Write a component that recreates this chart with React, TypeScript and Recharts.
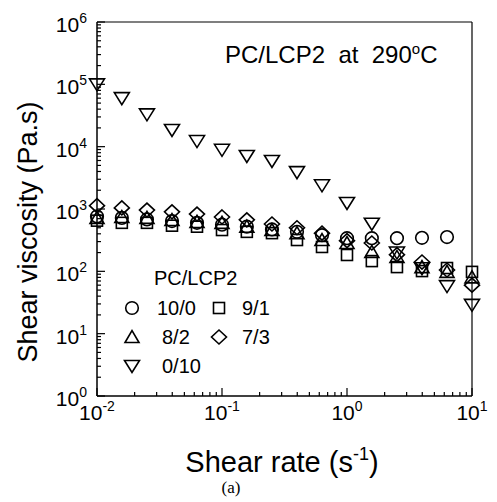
import React from 'react';
import { ScatterChart, Scatter, XAxis, YAxis, Customized } from 'recharts';

// ---------- data ----------
const shearRate = [0.01, 0.0158, 0.0251, 0.0398, 0.0631, 0.1, 0.158, 0.251, 0.398, 0.631, 1, 1.58, 2.51, 3.98, 6.31, 10];

const visc_10_0 = [760, 720, 680, 640, 600, 560, 520, 470, 430, 380, 340, 340, 340, 345, 355];
const visc_9_1 = [650, 600, 600, 540, 520, 460, 430, 410, 318, 246, 183, 146, 117, 101, 113, 98];
const visc_8_2 = [720, 745, 720, 666, 620, 600, 520, 460, 410, 318, 285, 205, 170, 117, 98, 80];
const visc_7_3 = [1130, 1040, 960, 900, 830, 745, 670, 575, 500, 410, 310, 285, 185, 141, 105, 60];
const visc_0_10 = [100000, 60000, 33000, 18500, 12300, 8900, 7100, 5900, 3900, 2400, 1250, 580, 200, 112, 58, 29];

const xMajorTicks = [0.01, 0.1, 1, 10];
const xMajorExp = ['-2', '-1', '0', '1'];
const yMajorTicks = [1, 10, 100, 1000, 10000, 100000, 1000000];
const yMajorExp = ['0', '1', '2', '3', '4', '5', '6'];

const seriesNames = ['10/0', '9/1', '8/2', '7/3', '0/10'];

// ---------- helpers ----------
const minorsFor = (majors: number[]) => {
  const out: number[] = [];
  for (let i = 0; i < majors.length - 1; i++) {
    for (let k = 2; k <= 9; k++) out.push(majors[i] * k);
  }
  return out;
};
const xTicks = [...xMajorTicks, ...minorsFor(xMajorTicks)];
const yTicks = [...yMajorTicks, ...minorsFor(yMajorTicks)];

const toPoints = (vals: number[]) => vals.map((v, i) => ({ x: shearRate[i], y: v }));

const SANS = '"Liberation Sans", Arial, sans-serif';
const SERIF = '"Liberation Serif", "Times New Roman", serif';
const SW = 1.6;

type Kind = 'circle' | 'square' | 'triUp' | 'triDown' | 'diamond';

const Marker = ({ kind, cx, cy }: { kind: Kind; cx: number; cy: number }) => {
  if (cx == null || cy == null || isNaN(cx) || isNaN(cy)) return null;
  const common = { fill: 'none', stroke: '#000', strokeWidth: SW };
  switch (kind) {
    case 'circle':
      return <circle cx={cx} cy={cy} r={6.3} {...common} />;
    case 'square':
      return <rect x={cx - 5.5} y={cy - 5.5} width={11} height={11} {...common} />;
    case 'triUp':
      return <polygon points={`${cx - 7},${cy + 5.5} ${cx + 7},${cy + 5.5} ${cx},${cy - 6.5}`} {...common} />;
    case 'triDown':
      return <polygon points={`${cx - 7.5},${cy - 5.5} ${cx + 7.5},${cy - 5.5} ${cx},${cy + 6.5}`} {...common} />;
    case 'diamond':
      return <polygon points={`${cx},${cy - 7} ${cx + 7.5},${cy} ${cx},${cy + 7} ${cx - 7.5},${cy}`} {...common} />;
  }
  return null;
};

const XTick = (props: any) => {
  const { x, y, payload } = props;
  const idx = xMajorTicks.indexOf(payload.value);
  const major = idx >= 0;
  return (
    <g>
      <line x1={x} x2={x} y1={y} y2={y - (major ? 8 : 4)} stroke="#000" strokeWidth={1.2} />
      {major && (
        <text x={x} y={y + 24} textAnchor="middle" fontFamily={SANS} fontSize={21} fill="#000">
          10<tspan dy={-9} fontSize={14}>{xMajorExp[idx]}</tspan>
        </text>
      )}
    </g>
  );
};

const YTick = (props: any) => {
  const { x, y, payload } = props;
  const idx = yMajorTicks.indexOf(payload.value);
  const major = idx >= 0;
  return (
    <g>
      <line x1={x} x2={x + (major ? 8 : 4)} y1={y} y2={y} stroke="#000" strokeWidth={1.2} />
      {major && (
        <text x={x - 10} y={y + 10} textAnchor="end" fontFamily={SANS} fontSize={21} fill="#000">
          10<tspan dy={-9} fontSize={14}>{yMajorExp[idx]}</tspan>
        </text>
      )}
    </g>
  );
};

const Annotations = () => (
  <g>
    {/* title inside plot */}
    <text x={225} y={63} fontFamily={SANS} fontSize={24} fill="#000" style={{ whiteSpace: 'pre' }}>
      {'PC/LCP2  at  290'}
      <tspan dy={-9} fontSize={15}>o</tspan>
      <tspan dy={9}>C</tspan>
    </text>
    {/* legend */}
    <text x={154} y={285} fontFamily={SANS} fontSize={20} fill="#000">PC/LCP2</text>
    <Marker kind="circle" cx={132} cy={308} />
    <text x={157} y={315} fontFamily={SANS} fontSize={20} fill="#000">{seriesNames[0]}</text>
    <Marker kind="square" cx={219} cy={308} />
    <text x={242} y={315} fontFamily={SANS} fontSize={20} fill="#000">{seriesNames[1]}</text>
    <Marker kind="triUp" cx={132} cy={337} />
    <text x={162} y={344} fontFamily={SANS} fontSize={20} fill="#000">{seriesNames[2]}</text>
    <Marker kind="diamond" cx={219} cy={337} />
    <text x={242} y={344} fontFamily={SANS} fontSize={20} fill="#000">{seriesNames[3]}</text>
    <Marker kind="triDown" cx={132} cy={366} />
    <text x={162} y={373} fontFamily={SANS} fontSize={20} fill="#000">{seriesNames[4]}</text>
    {/* axis titles */}
    <text
      x={28}
      y={232}
      transform="rotate(-90 28 232)"
      textAnchor="middle"
      dominantBaseline="central"
      fontFamily={SANS}
      fontSize={27}
      fill="#000"
    >
      Shear viscosity (Pa.s)
    </text>
    <text x={282} y={472} textAnchor="middle" fontFamily={SANS} fontSize={29} fill="#000">
      Shear rate (s<tspan dy={-12} fontSize={18}>-1</tspan>
      <tspan dy={12}>)</tspan>
    </text>
    <text x={231} y={493} textAnchor="middle" fontFamily={SERIF} fontSize={17} fill="#000">(a)</text>
  </g>
);

export default function App() {
  return (
    <div style={{ position: 'absolute', left: 0, top: 0, width: 497, height: 502, background: '#fff' }}>
      <ScatterChart width={497} height={502} margin={{ top: 21, right: 24, bottom: 76, left: 37 }}>
        <XAxis
          dataKey="x"
          type="number"
          scale="log"
          domain={[0.01, 10]}
          ticks={xTicks}
          interval={0}
          tick={<XTick />}
          tickLine={false}
          tickSize={0}
          tickMargin={0}
          height={30}
          axisLine={{ stroke: '#000', strokeWidth: 1.5 }}
        />
        <XAxis
          xAxisId="top"
          orientation="top"
          dataKey="x"
          type="number"
          scale="log"
          domain={[0.01, 10]}
          tick={false}
          tickLine={false}
          height={1}
          axisLine={{ stroke: '#000', strokeWidth: 1.2 }}
        />
        <YAxis
          dataKey="y"
          type="number"
          scale="log"
          domain={[1, 1000000]}
          ticks={yTicks}
          interval={0}
          tick={<YTick />}
          tickLine={false}
          tickSize={0}
          tickMargin={0}
          width={60}
          axisLine={{ stroke: '#000', strokeWidth: 1.5 }}
        />
        <YAxis
          yAxisId="right"
          orientation="right"
          dataKey="y"
          type="number"
          scale="log"
          domain={[1, 1000000]}
          tick={false}
          tickLine={false}
          width={1}
          axisLine={{ stroke: '#000', strokeWidth: 1.2 }}
        />
        <Scatter data={toPoints(visc_10_0)} isAnimationActive={false} shape={(p: any) => <Marker kind="circle" cx={p.cx} cy={p.cy} />} />
        <Scatter data={toPoints(visc_9_1)} isAnimationActive={false} shape={(p: any) => <Marker kind="square" cx={p.cx} cy={p.cy} />} />
        <Scatter data={toPoints(visc_8_2)} isAnimationActive={false} shape={(p: any) => <Marker kind="triUp" cx={p.cx} cy={p.cy} />} />
        <Scatter data={toPoints(visc_7_3)} isAnimationActive={false} shape={(p: any) => <Marker kind="diamond" cx={p.cx} cy={p.cy} />} />
        <Scatter data={toPoints(visc_0_10)} isAnimationActive={false} shape={(p: any) => <Marker kind="triDown" cx={p.cx} cy={p.cy} />} />
        <Customized component={Annotations} />
      </ScatterChart>
    </div>
  );
}
